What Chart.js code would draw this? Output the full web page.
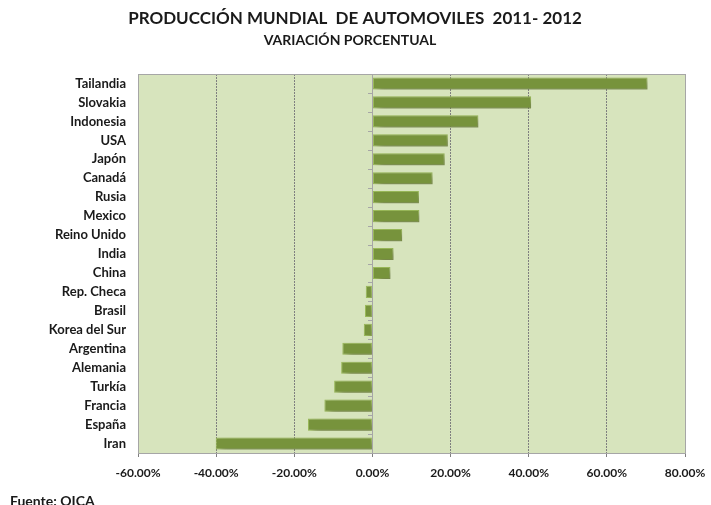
<!DOCTYPE html>
<html>
<head>
<meta charset="utf-8">
<script src="https://cdn.jsdelivr.net/npm/chart.js@4"></script>
<style>
  html, body { margin: 0; padding: 0; background: #fff; }
  #wrap { width: 711px; height: 505px; }
</style>
</head>
<body>
<div id="wrap"><canvas id="myChart" width="711" height="505"></canvas></div>
<script>
const paises = ['Tailandia', 'Slovakia', 'Indonesia', 'USA', 'Japón', 'Canadá', 'Rusia', 'Mexico',
    'Reino Unido', 'India', 'China', 'Rep. Checa', 'Brasil', 'Korea del Sur', 'Argentina',
    'Alemania', 'Turkía', 'Francia', 'España', 'Iran']
const variacion = [70.4, 40.6, 27.1, 19.3, 18.5, 15.4, 11.9, 12.0, 7.6, 5.4, 4.6,
    -1.7, -1.9, -2.2, -7.7, -8.0, -9.8, -12.3, -16.5, -40.1]
const xTicks = [-60, -40, -20, 0, 20, 40, 60, 80]

const titulo = 'PRODUCCIÓN MUNDIAL  DE AUTOMOVILES  2011- 2012'
const subtitulo = 'VARIACIÓN PORCENTUAL'
const fuente = 'Fuente: OICA'

const FONT = 'Lato, "Open Sans", sans-serif'

// fondo del area, borde, linea del cero y textos
const decoracion = {
    id: 'decoracion',
    beforeDraw(chart) {
        const { ctx, chartArea: a } = chart
        ctx.save()
        ctx.fillStyle = '#d7e4bd'
        ctx.fillRect(a.left, a.top, a.right - a.left, a.bottom - a.top)
        ctx.restore()
    },
    beforeDatasetsDraw(chart) {
        const { ctx, chartArea: a, scales } = chart
        const x0 = scales.x.getPixelForValue(0)
        ctx.save()
        ctx.strokeStyle = '#a6a6a6'
        ctx.lineWidth = 1
        ctx.beginPath()
        ctx.moveTo(Math.round(x0) + 0.5, a.top)
        ctx.lineTo(Math.round(x0) + 0.5, a.bottom)
        for (let i = 0; i <= paises.length; i++) {
            const y = Math.round(scales.y.getPixelForValue(i - 0.5)) + 0.5
            ctx.moveTo(Math.round(x0) - 4, y)
            ctx.lineTo(Math.round(x0), y)
        }
        ctx.stroke()
        // sombra de las barras
        ctx.shadowColor = 'rgba(70, 70, 50, 0.5)'
        ctx.shadowBlur = 6
        ctx.shadowOffsetX = 5
        ctx.shadowOffsetY = 4
    },
    afterDatasetsDraw(chart) {
        const { ctx } = chart
        ctx.restore()
    },
    afterDraw(chart) {
        const { ctx, chartArea: a } = chart
        ctx.save()
        ctx.strokeStyle = '#a6a6a6'
        ctx.lineWidth = 1
        ctx.strokeRect(Math.round(a.left) + 0.5, Math.round(a.top) + 0.5,
            Math.round(a.right - a.left), Math.round(a.bottom - a.top))
        ctx.fillStyle = '#1a1a1a'
        ctx.textAlign = 'center'
        ctx.textBaseline = 'middle'
        ctx.font = 'bold 17px ' + FONT
        ctx.fillText(titulo, 355, 19)
        ctx.font = 'bold 14px ' + FONT
        ctx.fillText(subtitulo, 350, 40)
        ctx.textAlign = 'left'
        ctx.textBaseline = 'top'
        ctx.font = 'bold 14px ' + FONT
        ctx.fillText(fuente, 10, 494)
        ctx.restore()
    }
}

new Chart('myChart', {
    type: 'bar',
    data: {
        labels: paises,
        datasets: [{
            data: variacion,
            backgroundColor: '#77933c',
            borderColor: '#9bbb59',
            borderWidth: 1,
            borderSkipped: false,
            barPercentage: 0.64,
            categoryPercentage: 1
        }]
    },
    options: {
        indexAxis: 'y',
        responsive: false,
        animation: false,
        layout: { padding: { top: 74, right: 26, left: 0, bottom: 0 } },
        plugins: {
            legend: { display: false },
            title: { display: false },
            tooltip: { enabled: false }
        },
        scales: {
            x: {
                min: -60,
                max: 80,
                afterBuildTicks(scale) {
                    scale.ticks = xTicks.map(v => ({ value: v }))
                },
                afterFit(scale) {
                    scale.height = 52
                    scale.paddingLeft = 0
                    scale.paddingRight = 0
                },
                grid: {
                    color: '#7f7f7f',
                    lineWidth: 1,
                    tickLength: 4,
                    drawOnChartArea: true
                },
                border: { display: false, dash: [2, 1] },
                ticks: {
                    color: '#1a1a1a',
                    padding: 9,
                    font: { family: FONT, size: 12, weight: 'bold' },
                    callback: v => v.toFixed(2) + '%'
                }
            },
            y: {
                afterFit(scale) { scale.width = 138 },
                grid: { display: false },
                border: { display: false },
                ticks: {
                    color: '#1a1a1a',
                    padding: 4,
                    autoSkip: false,
                    font: { family: FONT, size: 13, weight: 'bold' }
                }
            }
        }
    },
    plugins: [decoracion]
})
</script>
</body>
</html>
